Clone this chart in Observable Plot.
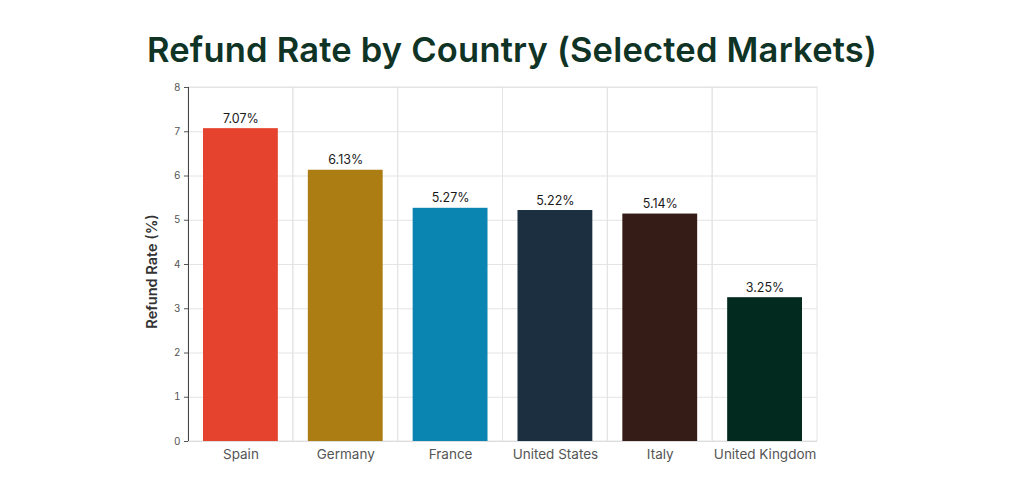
<!DOCTYPE html>
<html>
<head>
<meta charset="utf-8">
<script src="https://cdn.jsdelivr.net/npm/d3@7"></script>
<script src="https://cdn.jsdelivr.net/npm/@observablehq/plot@0.6"></script>
<style>
  body { margin: 0; background: #fff; font-family: Inter, "Noto Sans", sans-serif; }
  #title { height: 75px; box-sizing: border-box; padding-top: 33px; text-align: center;
    font-size: 34.5px; font-weight: 600; color: #0f3325; line-height: 1; letter-spacing: 0.2px; }
</style>
</head>
<body>
<div id="title">Refund Rate by Country (Selected Markets)</div>
<div id="chart"></div>
<script>
const countries = ["Spain", "Germany", "France", "United States", "Italy", "United Kingdom"];
const refundRates = [7.07, 6.13, 5.27, 5.22, 5.14, 3.25];
const barColors = ["#e5432e", "#ab7d12", "#0a84b0", "#1b2f40", "#351c16", "#022a1e"];
const yTicks = [0, 1, 2, 3, 4, 5, 6, 7, 8];

const data = countries.map((c, i) => ({country: c, rate: refundRates[i], color: barColors[i]}));

const chart = Plot.plot({
  width: 1024,
  height: 406,
  marginTop: 12,
  marginBottom: 40,
  marginLeft: 188,
  marginRight: 207,
  style: {fontFamily: "Inter, 'Noto Sans', sans-serif", background: "#fff"},
  x: {domain: countries, padding: 0, round: false, label: null},
  y: {domain: [0, 8], ticks: yTicks, label: "Refund Rate (%)"},
  marks: [
    Plot.gridY(yTicks, {stroke: "#e4e4e4", strokeOpacity: 1}),
    Plot.barY(data, {x: "country", y1: 0, y2: 8, fill: "none", stroke: "#e4e4e4", strokeWidth: 1}),
    Plot.barY(data, {x: "country", y: "rate", fill: "color", insetLeft: 15, insetRight: 15}),
    Plot.text(data, {x: "country", y: "rate", text: d => d.rate.toFixed(2) + "%", dy: -10,
      fontSize: 12.5, fontWeight: 400, fill: "#1a1a1a"}),
    Plot.axisX({tickSize: 0, tickPadding: 8, fontSize: 13.5, color: "#555", label: null}),
    Plot.axisY({ticks: yTicks, tickSize: 4, tickPadding: 4, fontSize: 10, color: "#555",
      label: "Refund Rate (%)", labelAnchor: "center", labelArrow: "none", labelOffset: 42}),
    Plot.ruleX([0], {x: () => countries[0], stroke: "#444", dx: -629 / 12, y1: 0, y2: 8}),
    Plot.ruleY([0], {stroke: "#ddd"})
  ]
});
document.getElementById("chart").appendChild(chart);
chart.querySelectorAll('[aria-label="y-axis label"] text').forEach(t => {
  t.setAttribute("font-size", "14.5"); t.setAttribute("font-weight", "600"); t.setAttribute("fill", "#333");
  const tr = t.getAttribute("transform") || "";
  t.setAttribute("transform", tr + " translate(-7,0)");
});
</script>
</body>
</html>
